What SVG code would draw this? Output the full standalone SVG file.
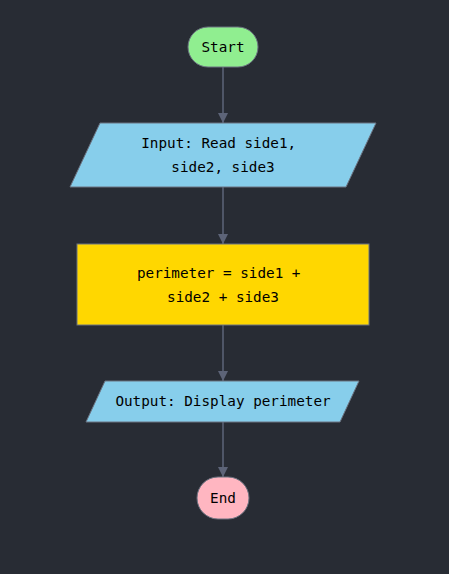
<svg xmlns="http://www.w3.org/2000/svg" width="449" height="574" viewBox="0 0 449 574">
<style>
.node{stroke:#6b7280;stroke-width:1}
.lbl{font-family:"DejaVu Sans Mono","Liberation Mono",monospace;font-size:14.3px;fill:#000;text-anchor:middle;dominant-baseline:central}
.edge{stroke:#5d6478;stroke-width:1.5;fill:none}
</style>
<defs>
<marker id="arr" viewBox="0 0 10 10" refX="10" refY="5" markerWidth="10" markerHeight="10" markerUnits="userSpaceOnUse" orient="auto">
<path d="M0,0 L10,5 L0,10 z" fill="#5d6478"/>
</marker>
</defs>
<rect width="449" height="574" fill="#282c34"/>
<g id="connectors">
<line class="edge" x1="223" y1="67" x2="223" y2="123" marker-end="url(#arr)"/>
<line class="edge" x1="223" y1="187" x2="223" y2="244" marker-end="url(#arr)"/>
<line class="edge" x1="223" y1="325" x2="223" y2="381" marker-end="url(#arr)"/>
<line class="edge" x1="223" y1="422" x2="223" y2="477" marker-end="url(#arr)"/>
</g>
<g id="start">
<rect class="node" x="188" y="27" width="70" height="40" rx="20" fill="#90ee90"/>
<text class="lbl" x="223" y="47">Start</text>
</g>
<g id="input">
<polygon class="node" points="100,123 376,123 346,187 70,187" fill="#87ceeb"/>
<text class="lbl" x="218.7" y="143">Input: Read side1,</text>
<text class="lbl" x="223" y="167">side2, side3</text>
</g>
<g id="process">
<rect class="node" x="77" y="244" width="292" height="81" fill="#ffd700"/>
<text class="lbl" x="218.7" y="273">perimeter = side1 +</text>
<text class="lbl" x="223" y="297">side2 + side3</text>
</g>
<g id="output">
<polygon class="node" points="105,381 359,381 340,422 86,422" fill="#87ceeb"/>
<text class="lbl" x="223" y="401">Output: Display perimeter</text>
</g>
<g id="end">
<rect class="node" x="197" y="477" width="52" height="42" rx="21" fill="#ffb6c1"/>
<text class="lbl" x="223" y="498">End</text>
</g>
</svg>
